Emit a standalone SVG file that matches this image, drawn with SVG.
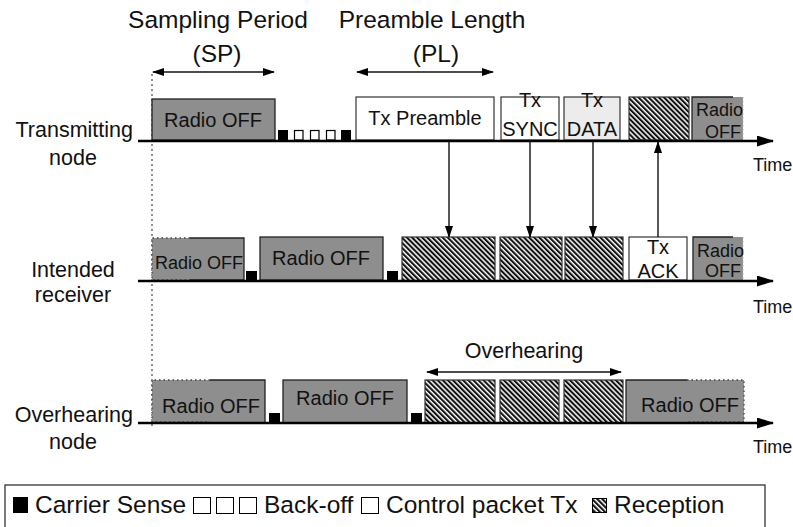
<svg xmlns="http://www.w3.org/2000/svg" width="793" height="527" viewBox="0 0 793 527">
<style>
text{font-family:"Liberation Sans",Arial,Helvetica,sans-serif;fill:#111}
.lab{font-size:21.5px}
.hdr{font-size:24.5px}
.box{font-size:20px}
.sm{font-size:18px}
.leg{font-size:24.5px}
.off{fill:#8e8e8e}
.sol{stroke:#222;stroke-width:1.3;fill:none}
.dot{stroke:#444;stroke-width:1.3;fill:none;stroke-dasharray:1.5 3}
.axis{stroke:#000;stroke-width:2.6}
.cs{fill:#000}
.bo{fill:#fff;stroke:#000;stroke-width:1.2}
.rx{fill:url(#hatch);stroke:#333;stroke-width:1.2}
.tx{fill:#fff;stroke:#333;stroke-width:1.2}
.conn{stroke:#111;stroke-width:1.4;fill:none}
.lsq{fill:#fff;stroke:#000;stroke-width:1}
</style>
<defs>
<pattern id="hatch" width="3.6" height="3.6" patternUnits="userSpaceOnUse" patternTransform="rotate(-45)">
<rect width="3.6" height="3.6" fill="#fff"/>
<rect width="2.1" height="3.6" fill="#111"/>
</pattern>
<marker id="ahs" markerWidth="12" markerHeight="8" refX="11" refY="4" orient="auto-start-reverse" markerUnits="userSpaceOnUse">
<path d="M0,0 L12,4 L0,8 z" fill="#000"/>
</marker>
<marker id="big" markerWidth="17" markerHeight="11" refX="16" refY="5.5" orient="auto" markerUnits="userSpaceOnUse">
<path d="M0,0 L17,5.5 L0,11 z" fill="#000"/>
</marker>
</defs>

<!-- header labels -->
<g id="sp-label">
<text class="hdr" x="218" y="28" text-anchor="middle">Sampling Period</text>
<text class="hdr" x="217" y="62" text-anchor="middle">(SP)</text>
<line class="conn" x1="153" y1="72" x2="274" y2="72" marker-start="url(#ahs)" marker-end="url(#ahs)"/>
</g>
<g id="pl-label">
<text class="hdr" x="432" y="28" text-anchor="middle">Preamble Length</text>
<text class="hdr" x="436" y="62" text-anchor="middle">(PL)</text>
<line class="conn" x1="357" y1="72" x2="493" y2="72" marker-start="url(#ahs)" marker-end="url(#ahs)"/>
</g>
<line id="ref-line" x1="152" y1="74" x2="152" y2="428" stroke="#555" stroke-width="1.3" stroke-dasharray="2 3"/>

<!-- row labels -->
<g id="row-tx-label">
<text class="lab" x="133" y="137" text-anchor="end">Transmitting</text>
<text class="lab" x="73" y="165" text-anchor="middle">node</text>
</g>
<g id="row-rx-label">
<text class="lab" x="73" y="277" text-anchor="middle">Intended</text>
<text class="lab" x="73" y="302" text-anchor="middle">receiver</text>
</g>
<g id="row-oh-label">
<text class="lab" x="133" y="422" text-anchor="end">Overhearing</text>
<text class="lab" x="73" y="449" text-anchor="middle">node</text>
</g>

<!-- Transmitting node row -->
<g id="tx-row">
<rect class="off" x="152" y="99" width="123" height="41"/>
<rect class="sol" x="152" y="99" width="123" height="41"/>
<text class="box" x="213" y="127" text-anchor="middle">Radio OFF</text>
<rect class="cs" x="278" y="130" width="10" height="10"/>
<rect class="bo" x="294.5" y="130.5" width="8.5" height="9.5"/>
<rect class="bo" x="310.5" y="130.5" width="8.5" height="9.5"/>
<rect class="bo" x="326.5" y="130.5" width="8.5" height="9.5"/>
<rect class="cs" x="341" y="130" width="10" height="10"/>
<rect class="tx" x="356" y="97" width="138" height="43"/>
<text class="box" x="425" y="125" text-anchor="middle">Tx Preamble</text>
<rect class="tx" x="501" y="97" width="58" height="43"/>
<text class="box" x="530" y="107" text-anchor="middle">Tx</text>
<text class="box" x="530" y="136" text-anchor="middle">SYNC</text>
<rect x="564" y="97" width="56" height="43" fill="#ececec" stroke="#333" stroke-width="1.2"/>
<text class="box" x="592" y="107" text-anchor="middle">Tx</text>
<text class="box" x="592" y="136" text-anchor="middle">DATA</text>
<rect class="rx" x="629" y="97" width="60" height="43"/>
<rect class="off" x="692" y="97" width="51" height="43"/>
<path class="sol" d="M692,140 V97 H733"/>
<path d="M743,97 V140" stroke="#bbb" stroke-width="1.2" stroke-dasharray="1.5 2.5"/>
<text class="sm" x="696" y="116">Radio</text>
<text class="sm" x="705" y="138">OFF</text>
<line class="axis" x1="138" y1="141" x2="773" y2="141" marker-end="url(#big)"/>
<text class="sm" x="753" y="171">Time</text>
</g>

<!-- Intended receiver row -->
<g id="rx-row">
<rect class="off" x="152" y="238" width="92" height="42"/>
<path class="dot" d="M190,238 H152 V280 H190"/>
<path class="sol" d="M190,238 H244 V280 H190"/>
<text class="sm" x="155" y="269">Radio OFF</text>
<rect class="cs" x="246" y="271" width="11" height="10"/>
<rect class="off" x="260" y="237" width="123" height="43"/>
<rect class="sol" x="260" y="237" width="123" height="43"/>
<text class="box" x="321" y="265" text-anchor="middle">Radio OFF</text>
<rect class="cs" x="387" y="271" width="11" height="10"/>
<rect class="rx" x="402" y="237" width="93" height="44"/>
<rect class="rx" x="500" y="237" width="62" height="44"/>
<rect class="rx" x="565" y="237" width="58" height="44"/>
<rect class="tx" x="629" y="237" width="58" height="43"/>
<text class="box" x="658" y="254" text-anchor="middle">Tx</text>
<text class="box" x="658" y="278" text-anchor="middle">ACK</text>
<rect class="off" x="693" y="237" width="50" height="43"/>
<path class="sol" d="M693,280 V237 H733"/>
<path d="M743,237 V280" stroke="#bbb" stroke-width="1.2" stroke-dasharray="1.5 2.5"/>
<text class="sm" x="697" y="257">Radio</text>
<text class="sm" x="705" y="277">OFF</text>
<line class="axis" x1="138" y1="281" x2="773" y2="281" marker-end="url(#big)"/>
<text class="sm" x="753" y="313">Time</text>
</g>

<!-- Overhearing node row -->
<g id="oh-row">
<rect class="off" x="152" y="380" width="113" height="43"/>
<path class="dot" d="M210,380 H152 V422 H210"/>
<path class="sol" d="M210,380 H265 V423"/>
<text class="box" x="211" y="413" text-anchor="middle">Radio OFF</text>
<rect class="cs" x="269" y="413" width="11" height="10"/>
<rect class="off" x="283" y="380" width="124" height="43"/>
<rect class="sol" x="283" y="380" width="124" height="43"/>
<text class="box" x="345" y="405" text-anchor="middle">Radio OFF</text>
<rect class="cs" x="411" y="413" width="11" height="10"/>
<rect class="rx" x="425" y="380" width="70" height="43"/>
<rect class="rx" x="500" y="380" width="59" height="43"/>
<rect class="rx" x="564" y="380" width="59" height="43"/>
<rect class="off" x="626" y="380" width="118" height="43"/>
<path class="sol" d="M626,423 V380 H687"/>
<path class="dot" d="M687,380 H744 V422 H687"/>
<text class="box" x="690" y="412" text-anchor="middle">Radio OFF</text>
<line class="axis" x1="138" y1="423" x2="773" y2="423" marker-end="url(#big)"/>
<text class="sm" x="753" y="453">Time</text>
</g>

<g id="overhearing-span">
<text class="lab" x="524" y="358" text-anchor="middle">Overhearing</text>
<line class="conn" x1="427" y1="372" x2="621" y2="372" marker-start="url(#ahs)" marker-end="url(#ahs)"/>
</g>

<!-- connectors -->
<g id="connectors">
<line class="conn" x1="449" y1="141" x2="449" y2="237" marker-end="url(#ahs)"/>
<line class="conn" x1="530" y1="141" x2="530" y2="237" marker-end="url(#ahs)"/>
<line class="conn" x1="593" y1="141" x2="593" y2="237" marker-end="url(#ahs)"/>
<line class="conn" x1="658" y1="237" x2="658" y2="142" marker-end="url(#ahs)"/>
</g>

<!-- legend -->
<g id="legend">
<rect x="5" y="485" width="760" height="50" fill="#fff" stroke="#333" stroke-width="1.3"/>
<rect x="13" y="497" width="15" height="16" fill="#000"/>
<text class="leg" x="35" y="513">Carrier Sense</text>
<rect class="lsq" x="193.5" y="497.5" width="17" height="16"/>
<rect class="lsq" x="216.5" y="497.5" width="17" height="16"/>
<rect class="lsq" x="239.5" y="497.5" width="17" height="16"/>
<text class="leg" x="264" y="513">Back-off</text>
<rect class="lsq" x="361.5" y="497.5" width="17" height="16"/>
<text class="leg" x="386" y="513">Control packet Tx</text>
<rect x="592.5" y="498.5" width="14" height="14" fill="url(#hatch)" stroke="#000" stroke-width="1"/>
<text class="leg" x="614" y="513">Reception</text>
</g>
</svg>
